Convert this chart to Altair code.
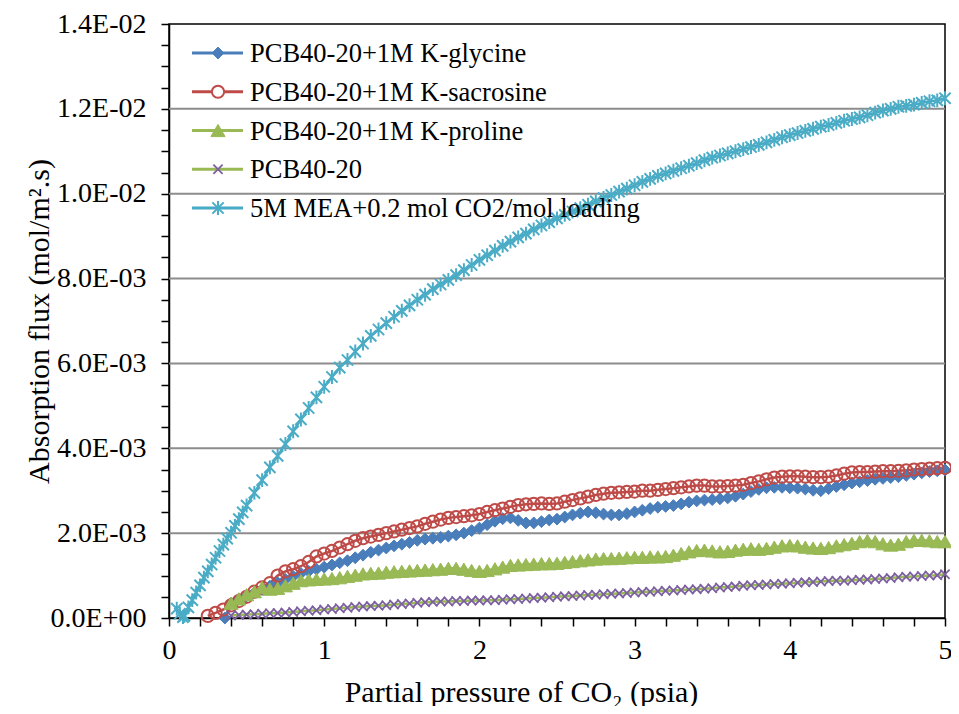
import altair as alt
import pandas as pd

# ---------------- data (flux values in units of 1E-03 mol/m2.s) ----------------
NAMES = ["PCB40-20+1M K-glycine", "PCB40-20+1M K-sacrosine", "PCB40-20+1M K-proline",
         "PCB40-20", "5M MEA+0.2 mol CO2/mol loading"]

GRID_X = [0.40, 0.45, 0.50, 0.55, 0.60, 0.65, 0.70, 0.75, 0.80, 0.85, 0.90, 0.95,
          1.00, 1.05, 1.10, 1.15, 1.20, 1.25, 1.30, 1.35, 1.40, 1.45, 1.50, 1.55,
          1.60, 1.65, 1.70, 1.75, 1.80, 1.85, 1.90, 1.95, 2.00, 2.05, 2.10, 2.15,
          2.20, 2.25, 2.30, 2.35, 2.40, 2.45, 2.50, 2.55, 2.60, 2.65, 2.70, 2.75,
          2.80, 2.85, 2.90, 2.95, 3.00, 3.05, 3.10, 3.15, 3.20, 3.25, 3.30, 3.35,
          3.40, 3.45, 3.50, 3.55, 3.60, 3.65, 3.70, 3.75, 3.80, 3.85, 3.90, 3.95,
          4.00, 4.05, 4.10, 4.15, 4.20, 4.25, 4.30, 4.35, 4.40, 4.45, 4.50, 4.55,
          4.60, 4.65, 4.70, 4.75, 4.80, 4.85, 4.90, 4.95, 5.00]

GLY_X = [0.36] + GRID_X
GLY_Y = [0.0, 0.35, 0.45, 0.52, 0.60, 0.67, 0.75, 0.83, 0.91, 0.98, 1.05, 1.10, 1.15,
         1.20, 1.25, 1.30, 1.35, 1.42, 1.48, 1.55, 1.60, 1.65, 1.70, 1.74, 1.78,
         1.83, 1.86, 1.88, 1.90, 1.93, 1.96, 2.00, 2.06, 2.12, 2.20, 2.28, 2.34,
         2.36, 2.30, 2.24, 2.24, 2.27, 2.31, 2.33, 2.38, 2.43, 2.47, 2.50, 2.48,
         2.45, 2.43, 2.43, 2.46, 2.50, 2.54, 2.58, 2.61, 2.63, 2.65, 2.69, 2.73,
         2.76, 2.78, 2.79, 2.81, 2.83, 2.87, 2.92, 2.98, 3.03, 3.07, 3.08, 3.08,
         3.07, 3.06, 3.04, 3.01, 3.00, 3.05, 3.10, 3.14, 3.18, 3.21, 3.24, 3.27,
         3.29, 3.31, 3.33, 3.36, 3.39, 3.42, 3.45, 3.47, 3.49]

SAR_X = [0.25, 0.30, 0.35] + GRID_X
SAR_Y = [0.05, 0.12, 0.20, 0.30, 0.40, 0.50, 0.62, 0.72, 0.82, 1.00, 1.10, 1.15, 1.22,
         1.32, 1.45, 1.52, 1.58, 1.66, 1.74, 1.82, 1.88, 1.92, 1.96, 2.00, 2.04,
         2.08, 2.12, 2.16, 2.22, 2.27, 2.32, 2.36, 2.38, 2.40, 2.42, 2.45, 2.50,
         2.54, 2.58, 2.62, 2.66, 2.68, 2.69, 2.70, 2.69, 2.70, 2.74, 2.78, 2.82,
         2.86, 2.90, 2.93, 2.95, 2.96, 2.97, 2.98, 3.00, 3.00, 3.02, 3.04, 3.06,
         3.08, 3.10, 3.12, 3.12, 3.10, 3.10, 3.11, 3.12, 3.14, 3.18, 3.22, 3.27,
         3.31, 3.33, 3.34, 3.34, 3.33, 3.32, 3.32, 3.33, 3.36, 3.40, 3.43, 3.44,
         3.44, 3.45, 3.46, 3.46, 3.47, 3.48, 3.50, 3.51, 3.52, 3.53, 3.54]

PRO_X = GRID_X
PRO_Y = [0.35, 0.45, 0.55, 0.62, 0.72, 0.68, 0.70, 0.76, 0.82, 0.88, 0.90, 0.91,
         0.92, 0.93, 0.95, 0.98, 1.01, 1.04, 1.05, 1.06, 1.08, 1.09, 1.10, 1.11,
         1.12, 1.13, 1.14, 1.15, 1.17, 1.17, 1.15, 1.12, 1.10, 1.12, 1.16, 1.20,
         1.24, 1.25, 1.26, 1.27, 1.28, 1.28, 1.29, 1.31, 1.33, 1.35, 1.37, 1.39,
         1.40, 1.40, 1.41, 1.42, 1.43, 1.43, 1.44, 1.44, 1.45, 1.48, 1.52, 1.56,
         1.59, 1.60, 1.58, 1.56, 1.57, 1.60, 1.62, 1.63, 1.62, 1.64, 1.67, 1.70,
         1.71, 1.70, 1.67, 1.65, 1.64, 1.66, 1.70, 1.73, 1.76, 1.80, 1.83, 1.80,
         1.75, 1.72, 1.74, 1.80, 1.83, 1.83, 1.82, 1.80, 1.80]

PCB_X = GRID_X
PCB_Y = [0.06, 0.07, 0.08, 0.09, 0.10, 0.11, 0.12, 0.13, 0.14, 0.16, 0.17, 0.18,
         0.20, 0.21, 0.23, 0.24, 0.26, 0.27, 0.28, 0.29, 0.30, 0.32, 0.33, 0.34,
         0.36, 0.37, 0.38, 0.39, 0.39, 0.40, 0.40, 0.41, 0.41, 0.42, 0.42, 0.43,
         0.44, 0.45, 0.46, 0.47, 0.48, 0.49, 0.50, 0.51, 0.52, 0.53, 0.54, 0.55,
         0.56, 0.57, 0.58, 0.59, 0.60, 0.61, 0.62, 0.63, 0.64, 0.65, 0.66, 0.67,
         0.68, 0.69, 0.70, 0.72, 0.73, 0.74, 0.76, 0.77, 0.78, 0.79, 0.80, 0.81,
         0.82, 0.83, 0.84, 0.85, 0.86, 0.87, 0.88, 0.88, 0.89, 0.90, 0.91, 0.92,
         0.93, 0.94, 0.96, 0.97, 0.98, 0.99, 1.00, 1.01, 1.03]

MEA_X = [0.05, 0.07, 0.09, 0.100, 0.125, 0.150, 0.175, 0.200, 0.225, 0.250, 0.275,
         0.300, 0.325, 0.350, 0.375, 0.400, 0.425, 0.450, 0.475, 0.500] + GRID_X[3:]
MEA_Y = [0.22, 0.10, 0.02, 0.05, 0.25, 0.42, 0.60, 0.77, 0.95, 1.10, 1.26,
         1.42, 1.58, 1.73, 1.87, 2.01, 2.17, 2.33, 2.49, 2.65,
         2.95, 3.25, 3.55, 3.82, 4.10, 4.40, 4.68, 4.95, 5.20,
         5.45, 5.68, 5.90, 6.08, 6.28, 6.47, 6.65, 6.80, 6.95, 7.10, 7.24, 7.37,
         7.50, 7.62, 7.75, 7.86, 7.97, 8.08, 8.20, 8.32, 8.44, 8.55, 8.66, 8.77,
         8.87, 8.97, 9.06, 9.16, 9.25, 9.33, 9.42, 9.50, 9.58, 9.66, 9.74, 9.82,
         9.90, 9.97, 10.05, 10.12, 10.20, 10.28, 10.35, 10.42, 10.48, 10.54, 10.60, 10.66,
         10.72, 10.79, 10.85, 10.90, 10.95, 11.00, 11.05, 11.10, 11.15, 11.21, 11.27, 11.33,
         11.38, 11.43, 11.48, 11.53, 11.58, 11.62, 11.67, 11.72, 11.76, 11.80, 11.85, 11.91,
         11.96, 12.00, 12.05, 12.07, 12.10, 12.14, 12.18, 12.20, 12.25]

GRID_LINES = [2.0, 4.0, 6.0, 8.0, 10.0, 12.0]
X_TICKS = [0, 0.2, 0.4, 0.6, 0.8, 1, 1.2, 1.4, 1.6, 1.8, 2, 2.2, 2.4, 2.6, 2.8, 3,
           3.2, 3.4, 3.6, 3.8, 4, 4.2, 4.4, 4.6, 4.8, 5]
Y_TICKS = [i * 0.5 for i in range(29)]

# ---------------- styles ----------------
LINE_COLORS = ["#4A7EBB", "#BE4B48", "#98B954", "#98B954", "#46AAC5"]
MK_STROKE = ["#4A7EBB", "#BE4B48", "#98B954", "#7D60A0", "#4BACC6"]
MK_FILL = ["#4A7EBB", "transparent", "#98B954", "transparent", "transparent"]
X_PATH = "M-1,-1L1,1M-1,1L1,-1"
STAR_PATH = "M-0.85,-0.85L0.85,0.85M-0.85,0.85L0.85,-0.85M0,-1.05L0,1.05"
SHAPES = ["diamond", "circle", "triangle-up", X_PATH, STAR_PATH]
SIZES = [140, 150, 200, 85, 175]
MK_WIDTH = [1.0, 2.0, 1.0, 1.8, 2.0]
FONT = "Liberation Serif"

rows = []
for name, xs, ys in zip(NAMES, [GLY_X, SAR_X, PRO_X, PCB_X, MEA_X],
                        [GLY_Y, SAR_Y, PRO_Y, PCB_Y, MEA_Y]):
    assert len(xs) == len(ys), name
    for xv, yv in zip(xs, ys):
        rows.append({"series": name, "x": xv, "flux": yv / 1000.0})
df = pd.DataFrame(rows)
grid_df = pd.DataFrame({"flux": [g / 1000.0 for g in GRID_LINES]})
leg_df = pd.DataFrame({"series": NAMES})

color_scale = alt.Scale(domain=NAMES, range=LINE_COLORS)

y_label_expr = ("round(datum.value*10000) % 20 != 0 ? '' : (datum.value < 0.00001 ? '0.0E+00' : "
                "(datum.value > 0.0095 ? format(datum.value*100, '.1f') + 'E-02' : "
                "format(datum.value*1000, '.1f') + 'E-03'))")

y_enc = alt.Y("flux:Q",
              scale=alt.Scale(domain=[0, 0.014], nice=False, zero=True),
              axis=alt.Axis(values=[t / 1000.0 for t in Y_TICKS], labelExpr=y_label_expr,
                            grid=False, tickSize=8, labelPadding=15, labelOverlap=False,
                            labelFontSize=28, title="Absorption flux (mol/m\u00b2.s)",
                            titleFontSize=30, titleFont=FONT, titleX=-121, titleY=297,
                            titleBaseline="alphabetic", titleAlign="center", titleAngle=270))
x_enc = alt.X("x:Q",
              scale=alt.Scale(domain=[0, 5], nice=False, zero=True),
              axis=alt.Axis(values=X_TICKS,
                            labelExpr="round(datum.value*10) % 10 == 0 ? format(datum.value, 'd') : ''",
                            grid=False, tickSize=8, labelPadding=10, labelOverlap=False,
                            labelFlush=False, labelFontSize=28,
                            title="Partial pressure of CO\u2082 (psia)", titleFontSize=30,
                            titleFont=FONT, titleX=352, titleY=83, titleBaseline="alphabetic",
                            titleAlign="center"))

grid = alt.Chart(grid_df).mark_rule(color="#8c8c8c", strokeWidth=2).encode(y=y_enc)
lines = alt.Chart(df).mark_line(strokeWidth=2.5).encode(
    x=x_enc, y=y_enc,
    color=alt.Color("series:N", scale=color_scale, legend=None),
)

point_layers = []
for i, name in enumerate(NAMES):
    point_layers.append(
        alt.Chart(df).transform_filter(alt.datum.series == name).mark_point(
            shape=SHAPES[i], size=SIZES[i], stroke=MK_STROKE[i], fill=MK_FILL[i],
            strokeWidth=MK_WIDTH[i], opacity=1, filled=False,
        ).encode(x=x_enc, y=y_enc)
    )
data_layer = alt.layer(grid, lines, *point_layers)

leg_y = alt.Y("series:N", scale=alt.Scale(type="point", domain=NAMES, range=[29, 184], padding=0),
              axis=None)
leg_rule = alt.Chart(leg_df).mark_rule(strokeWidth=3).encode(
    x=alt.value(23), x2=alt.value(74), y=leg_y,
    color=alt.Color("series:N", scale=color_scale, legend=None),
)
leg_pts = []
for i, name in enumerate(NAMES):
    leg_pts.append(
        alt.Chart(leg_df).transform_filter(alt.datum.series == name).mark_point(
            shape=SHAPES[i], size=SIZES[i], stroke=MK_STROKE[i],
            fill="white" if i == 1 else MK_FILL[i],
            strokeWidth=MK_WIDTH[i], opacity=1, filled=False,
        ).encode(x=alt.value(49), y=leg_y)
    )
leg_txt = alt.Chart(leg_df).mark_text(align="left", baseline="middle", fontSize=26.5,
                                      font=FONT, color="black", dy=1).encode(
    x=alt.value(81), y=leg_y, text="series:N")
legend_layer = alt.layer(leg_rule, *leg_pts, leg_txt)

chart = alt.layer(data_layer, legend_layer).resolve_scale(y="independent").properties(
    width=776, height=594,
    autosize=alt.AutoSizeParams(type="none"),
    padding={"left": 161, "top": 16, "right": 6, "bottom": 88},
    background="white",
).configure_axis(
    labelFont=FONT, titleFont=FONT, labelColor="black", titleColor="black",
    domainColor="black", domainWidth=1.5, tickColor="black", tickWidth=1.5,
    titleFontWeight="normal",
).configure_text(font=FONT).configure_view(stroke="black", strokeWidth=1.5)

chart.save("out.html", embed_options={"renderer": "svg", "actions": False})
